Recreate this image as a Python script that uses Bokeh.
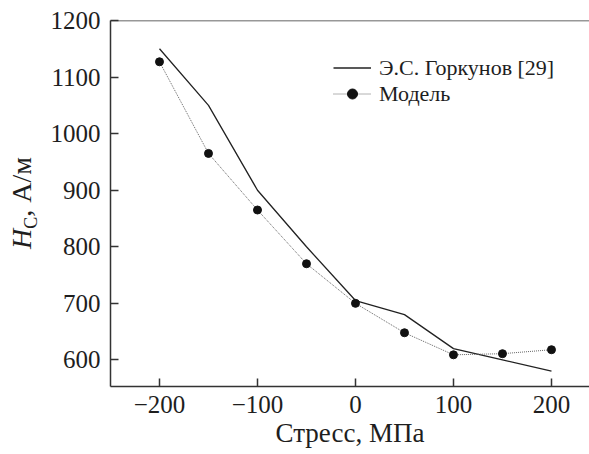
from bokeh.plotting import figure
from bokeh.models import Range1d, FixedTicker, Span, Legend, LegendItem, Div
from bokeh.layouts import row
from bokeh.embed import file_html
from bokeh.resources import INLINE

stress = [-200, -150, -100, -50, 0, 50, 100, 150, 200]
gorkunov = [1150, 1050, 900, 800, 705, 680, 620, 600, 580]
model = [1127, 965, 865, 770, 700, 648, 609, 611, 618]
x_ticks = [-200, -100, 0, 100, 200]
y_ticks = [600, 700, 800, 900, 1000, 1100, 1200]
legend_labels = ["Э.С. Горкунов [29]", "Модель"]
x_title = "Стресс, МПа"
y_title_html = "<i>H</i><sub style='font-size:18px'>C</sub>, А/м"

FONT = "Liberation Serif"
AX = "#333333"
TXT = "#1e1e1e"
DIV_W = 40

p = figure(width=589 - DIV_W, height=454, output_backend="svg", toolbar_location=None,
           x_range=Range1d(-250, 238.8), y_range=Range1d(553, 1200),
           min_border_left=110 - DIV_W, min_border_top=20, min_border_bottom=68,
           min_border_right=0, margin=0)
p.outline_line_color = None
p.xgrid.visible = False
p.ygrid.visible = False
p.background_fill_color = "white"
p.border_fill_color = "white"

for ax, ticks in ((p.xaxis[0], x_ticks), (p.yaxis[0], y_ticks)):
    ax.ticker = FixedTicker(ticks=ticks)
    ax.minor_tick_line_color = None
    ax.major_tick_in = 8
    ax.major_tick_out = 0
    ax.major_tick_line_color = AX
    ax.major_tick_line_width = 1.5
    ax.axis_line_color = AX
    ax.axis_line_width = 1.5
    ax.major_label_text_font = FONT
    ax.major_label_text_font_size = "25px"
    ax.major_label_text_color = TXT
    ax.major_label_standoff = 10
p.xaxis[0].major_label_overrides = {t: ("\u2212" + str(-t) if t < 0 else str(t)) for t in x_ticks}
p.xaxis[0].major_label_standoff = 9
p.xaxis[0].axis_label = x_title
p.xaxis[0].axis_label_text_font = FONT
p.xaxis[0].axis_label_text_font_size = "27px"
p.xaxis[0].axis_label_text_font_style = "normal"
p.xaxis[0].axis_label_text_color = TXT
p.xaxis[0].axis_label_standoff = 2

p.add_layout(Span(location=1200, dimension="width", line_color=AX, line_width=1.5))

r1 = p.line(stress, gorkunov, line_color="#222222", line_width=1.3)
r2 = p.line(stress, model, line_color="#666666", line_width=1.0, line_dash="1 1")
r3 = p.scatter(stress, model, marker="circle", size=8, fill_color="#111111", line_color="#111111")

legend = Legend(items=[LegendItem(label=legend_labels[0], renderers=[r1]),
                       LegendItem(label=legend_labels[1], renderers=[r2, r3])],
                location=(223, 279.5), padding=0, margin=0, spacing=0,
                label_height=25, glyph_height=25, glyph_width=38, label_standoff=8,
                label_text_font=FONT, label_text_font_size="22px",
                label_text_color=TXT,
                background_fill_alpha=0, border_line_color=None)
p.add_layout(legend)

ylab = Div(width=DIV_W, height=454, margin=0, text=(
    "<div style='position:relative;width:%dpx;height:454px;'>"
    "<div style=\"position:absolute;left:24px;top:203px;"
    "transform:translate(-50%%,-50%%) rotate(-90deg);white-space:nowrap;"
    "font-family:'Liberation Serif';font-size:28px;color:%s;line-height:1;\">%s</div></div>"
) % (DIV_W, TXT, y_title_html))

layout = row(ylab, p, spacing=0, margin=0)
open("out.html", "w").write(file_html(layout, INLINE))
